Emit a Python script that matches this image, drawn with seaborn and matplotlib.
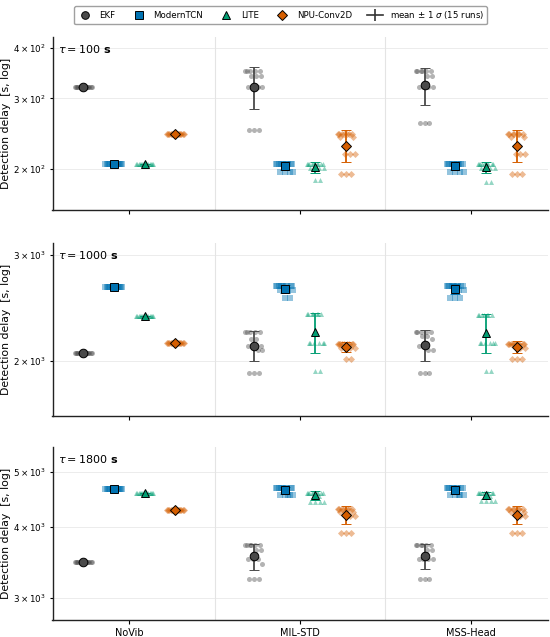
import numpy as np
import pandas as pd
import matplotlib
matplotlib.use("Agg")
import matplotlib.pyplot as plt
import seaborn as sns
from matplotlib.lines import Line2D
from matplotlib.ticker import FixedLocator, FuncFormatter, NullLocator

# ---------------- data ----------------
CONDITIONS = ["NoVib", "MIL-STD", "MSS-Head"]
METHODS = ["EKF", "ModernTCN", "LITE", "NPU-Conv2D"]
TAUS = [100, 1000, 1800]

# tau = 100 s  (15 runs each)
ekf_100_novib = [321, 321, 321, 321, 321, 321, 321, 321, 321, 321, 321, 321, 321, 321, 321]
tcn_100_novib = [206, 206, 206, 206, 206, 206, 206, 206, 206, 206, 206, 206, 206, 206, 206]
lite_100_novib = [206, 206, 206, 206, 206, 206, 206, 206, 206, 206, 206, 206, 206, 206, 206]
npu_100_novib = [244, 244, 244, 244, 244, 244, 244, 244, 244, 244, 244, 244, 244, 244, 244]
ekf_100_mil = [350, 350, 350, 350, 350, 341, 341, 341, 321, 321, 321, 321, 250, 250, 250]
tcn_100_mil = [206, 206, 206, 206, 206, 206, 206, 206, 206, 206, 206, 197, 197, 197, 197]
lite_100_mil = [206, 206, 206, 206, 206, 206, 206, 206, 206, 201, 201, 201, 201, 188, 188]
npu_100_mil = [245, 245, 245, 245, 245, 245, 245, 241, 241, 218, 218, 218, 194, 194, 194]
ekf_100_mss = [350, 350, 350, 350, 350, 350, 341, 341, 321, 321, 321, 321, 260, 260, 260]
tcn_100_mss = [206, 206, 206, 206, 206, 206, 206, 206, 206, 206, 206, 197, 197, 197, 197]
lite_100_mss = [206, 206, 206, 206, 206, 206, 206, 206, 206, 201, 201, 201, 201, 186, 186]
npu_100_mss = [245, 245, 245, 245, 245, 245, 245, 241, 241, 218, 218, 218, 194, 194, 194]

# tau = 1000 s
ekf_1000_novib = [2062, 2062, 2062, 2062, 2062, 2062, 2062, 2062, 2062, 2062, 2062, 2062, 2062, 2062, 2062]
tcn_1000_novib = [2653, 2653, 2653, 2653, 2653, 2653, 2653, 2653, 2653, 2653, 2653, 2653, 2653, 2653, 2653]
lite_1000_novib = [2371, 2371, 2371, 2371, 2371, 2371, 2371, 2371, 2371, 2371, 2371, 2371, 2371, 2371, 2371]
npu_1000_novib = [2143, 2143, 2143, 2143, 2143, 2143, 2143, 2143, 2143, 2143, 2143, 2143, 2143, 2143, 2143]
ekf_1000_mil = [2233, 2233, 2233, 2233, 2233, 2174, 2174, 2119, 2119, 2119, 2084, 2084, 1905, 1905, 1905]
tcn_1000_mil = [2660, 2660, 2660, 2660, 2660, 2660, 2660, 2660, 2660, 2660, 2620, 2620, 2620, 2545, 2545]
lite_1000_mil = [2390, 2390, 2390, 2390, 2390, 2390, 2390, 2141, 2141, 2141, 2141, 2141, 2141, 1922, 1922]
npu_1000_mil = [2133, 2133, 2133, 2133, 2133, 2133, 2133, 2133, 2133, 2100, 2100, 2100, 2100, 2013, 2013]
ekf_1000_mss = [2233, 2233, 2233, 2233, 2233, 2200, 2200, 2174, 2119, 2119, 2084, 2084, 1905, 1905, 1905]
tcn_1000_mss = [2660, 2660, 2660, 2660, 2660, 2660, 2660, 2660, 2660, 2660, 2625, 2625, 2545, 2545, 2545]
lite_1000_mss = [2385, 2385, 2385, 2385, 2385, 2385, 2385, 2141, 2141, 2141, 2141, 2141, 2141, 1922, 1922]
npu_1000_mss = [2133, 2133, 2133, 2133, 2133, 2133, 2133, 2133, 2133, 2133, 2100, 2100, 2013, 2013, 2013]

# tau = 1800 s
ekf_1800_novib = [3470, 3470, 3470, 3470, 3470, 3470, 3470, 3470, 3470, 3470, 3470, 3470, 3470, 3470, 3470]
tcn_1800_novib = [4672, 4672, 4672, 4672, 4672, 4672, 4672, 4672, 4672, 4672, 4672, 4672, 4672, 4672, 4672]
lite_1800_novib = [4591, 4591, 4591, 4591, 4591, 4591, 4591, 4591, 4591, 4591, 4591, 4591, 4591, 4591, 4591]
npu_1800_novib = [4285, 4285, 4285, 4285, 4285, 4285, 4285, 4285, 4285, 4285, 4285, 4285, 4285, 4285, 4285]
ekf_1800_mil = [3720, 3720, 3720, 3720, 3720, 3720, 3640, 3640, 3510, 3510, 3510, 3450, 3236, 3236, 3236]
tcn_1800_mil = [4690, 4690, 4690, 4690, 4690, 4690, 4690, 4690, 4690, 4690, 4550, 4550, 4550, 4550, 4550]
lite_1800_mil = [4598, 4598, 4598, 4598, 4598, 4598, 4598, 4598, 4598, 4540, 4540, 4430, 4430, 4430, 4430]
npu_1800_mil = [4300, 4300, 4300, 4300, 4300, 4300, 4300, 4250, 4250, 4250, 4180, 4180, 3910, 3910, 3910]
ekf_1800_mss = [3715, 3715, 3715, 3715, 3715, 3715, 3640, 3640, 3510, 3510, 3510, 3510, 3236, 3236, 3236]
tcn_1800_mss = [4690, 4690, 4690, 4690, 4690, 4690, 4690, 4690, 4690, 4690, 4550, 4550, 4550, 4550, 4550]
lite_1800_mss = [4598, 4598, 4598, 4598, 4598, 4598, 4598, 4598, 4598, 4540, 4540, 4438, 4438, 4438, 4438]
npu_1800_mss = [4300, 4300, 4300, 4300, 4300, 4300, 4300, 4250, 4250, 4250, 4180, 4180, 3910, 3910, 3910]

# y tick values per panel
TICKS_100 = [200, 300, 400]
TICKS_1000 = [2000, 3000]
TICKS_1800 = [3000, 4000, 5000]

RUNS = {
    100: {
        "NoVib": [ekf_100_novib, tcn_100_novib, lite_100_novib, npu_100_novib],
        "MIL-STD": [ekf_100_mil, tcn_100_mil, lite_100_mil, npu_100_mil],
        "MSS-Head": [ekf_100_mss, tcn_100_mss, lite_100_mss, npu_100_mss],
    },
    1000: {
        "NoVib": [ekf_1000_novib, tcn_1000_novib, lite_1000_novib, npu_1000_novib],
        "MIL-STD": [ekf_1000_mil, tcn_1000_mil, lite_1000_mil, npu_1000_mil],
        "MSS-Head": [ekf_1000_mss, tcn_1000_mss, lite_1000_mss, npu_1000_mss],
    },
    1800: {
        "NoVib": [ekf_1800_novib, tcn_1800_novib, lite_1800_novib, npu_1800_novib],
        "MIL-STD": [ekf_1800_mil, tcn_1800_mil, lite_1800_mil, npu_1800_mil],
        "MSS-Head": [ekf_1800_mss, tcn_1800_mss, lite_1800_mss, npu_1800_mss],
    },
}
TICKS = {100: TICKS_100, 1000: TICKS_1000, 1800: TICKS_1800}

# ---------------- style ----------------
COLORS = {"EKF": "#4a4a4a", "ModernTCN": "#0173B2", "LITE": "#029E73", "NPU-Conv2D": "#D55E00"}
MARKERS = {"EKF": "o", "ModernTCN": "s", "LITE": "^", "NPU-Conv2D": "D"}
MSIZE = {"EKF": 6.2, "ModernTCN": 5.8, "LITE": 6.2, "NPU-Conv2D": 5.4}
OFFSETS = {"EKF": -0.27, "ModernTCN": -0.09, "LITE": 0.09, "NPU-Conv2D": 0.27}
JITTER = (((np.arange(15) * 4) % 15) / 14.0 - 0.5) * 0.1
YLIMS = {100: (158.6, 427.8), 1000: (1620, 3146), 1800: (2744, 5533)}

rows = []
for tau in TAUS:
    for ci, cond in enumerate(CONDITIONS):
        for mi, m in enumerate(METHODS):
            for k, v in enumerate(RUNS[tau][cond][mi]):
                rows.append({"tau": tau, "condition": cond, "cidx": ci, "method": m,
                             "run": k, "delay": float(v)})
df = pd.DataFrame(rows)
df["xpos"] = df["cidx"] + df["method"].map(OFFSETS) + JITTER[df["run"].values]

stats = df.groupby(["tau", "condition", "method"])["delay"].agg(["mean", "std"])

fig = plt.figure(figsize=(5.5, 6.37), dpi=100)
plt.rcParams["font.family"] = ["DejaVu Sans"]

ax_h = 173 / 637
bottoms = [1 - 209.5 / 637, 1 - 415.5 / 637, 1 - 620 / 637]
left, width = 52.5 / 550, 495 / 550


def sci(v, p):
    e = int(np.floor(np.log10(v)))
    return r"$%d\times10^{%d}$" % (round(v / 10 ** e), e)


axes = []
for pi, tau in enumerate(TAUS):
    ax = fig.add_axes([left, bottoms[pi], width, ax_h])
    axes.append(ax)
    ax.set_yscale("log")
    sub_t = df[df["tau"] == tau]
    for m in METHODS:
        sub = sub_t[sub_t["method"] == m]
        sns.scatterplot(data=sub, x="xpos", y="delay", marker=MARKERS[m], color=COLORS[m],
                        s=13, alpha=0.42, linewidth=0, ax=ax, legend=False, zorder=2)
    for ci, cond in enumerate(CONDITIONS):
        for m in METHODS:
            mu = stats.loc[(tau, cond, m), "mean"]
            sd = stats.loc[(tau, cond, m), "std"]
            ax.errorbar([ci + OFFSETS[m]], [mu], yerr=[sd], fmt=MARKERS[m], color=COLORS[m],
                        mfc=COLORS[m], mec="black", mew=0.7, ms=MSIZE[m],
                        elinewidth=1.3, capsize=3.6, capthick=1.0, zorder=4)
    ax.set_xlim(-0.45, 2.45)
    ax.set_ylim(*YLIMS[tau])
    ax.yaxis.set_major_locator(FixedLocator(TICKS[tau]))
    ax.yaxis.set_minor_locator(NullLocator())
    ax.yaxis.set_major_formatter(FuncFormatter(sci))
    for t in TICKS[tau]:
        ax.axhline(t, color="#ececec", lw=0.7, zorder=0)
    for xs in (0.5, 1.5):
        ax.axvline(xs, color="#e4e4e4", lw=0.8, zorder=0)
    ax.set_xticks([0, 1, 2])
    ax.set_xticklabels(CONDITIONS)
    ax.tick_params(axis="x", labelsize=7, length=3, width=0.8, labelbottom=(pi == 2), pad=3)
    ax.tick_params(axis="y", labelsize=6.3, length=2.5, width=0.8, pad=2.5)
    ax.set_xlabel("")
    ax.set_ylabel("Detection delay  [s, log]", fontsize=7.8)
    ax.yaxis.set_label_coords(-0.083, 0.5)
    for sp in ("top", "right"):
        ax.spines[sp].set_visible(False)
    for sp in ("left", "bottom"):
        ax.spines[sp].set_linewidth(1.0)
        ax.spines[sp].set_color("#222222")
    ax.text(0.012, 0.965, r"$\tau = %d$ s" % tau, transform=ax.transAxes, ha="left", va="top",
            fontsize=8, fontweight="bold")

handles = [Line2D([0], [0], marker=MARKERS[m], color="none", markerfacecolor=COLORS[m],
                  markeredgecolor="black", markeredgewidth=0.7, markersize=5.5, label=m)
           for m in METHODS]
handles.append(Line2D([0], [0], color="#333333", lw=1.2, marker="|", markersize=8,
                      markeredgewidth=1.2, label=r"mean ± 1 $\sigma$ (15 runs)"))
fig.legend(handles=handles, loc="upper center", bbox_to_anchor=(0.51, 0.997), ncol=5,
           fontsize=6.2, frameon=True, edgecolor="#a0a0a0", fancybox=True, framealpha=1,
           handlelength=1.8, columnspacing=1.8, handletextpad=0.8, borderpad=0.35)

fig.savefig("out.png", dpi=100)
